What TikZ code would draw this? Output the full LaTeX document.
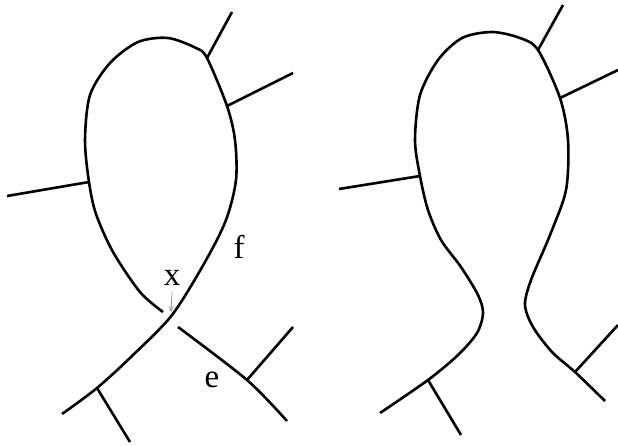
\documentclass[tikz,border=0pt]{standalone}
\usepackage{fontspec}
\setmainfont{Liberation Serif}
\usetikzlibrary{arrows.meta}
\begin{document}
\begin{tikzpicture}[x=1pt, y=-1pt, every node/.style={font=\fontsize{33}{36}\selectfont, inner sep=0pt}]
\tikzstyle{strand}=[line width=2.6pt, line join=round]
\tikzstyle{leg}=[line width=2.6pt]
\tikzstyle{pointer}=[draw=gray, line width=0.6pt, -{Straight Barb[length=5pt,width=4pt]}]
\useasboundingbox (0,0) rectangle (618,445);
% left: twisted loop
\coordinate (lt1) at (207,58);
\coordinate (lt2) at (227,106);
\coordinate (ll) at (89,182);
\coordinate (lb) at (97,388);
\coordinate (le) at (247,380);
\coordinate (xtip) at (171,312);
\draw[strand] plot[smooth] coordinates {(163,312) (140,292) (113,252) (96,214) (ll) (85,140)
  (90,95) (110,63) (138,42) (168,38) (196,48) (lt1) (lt2) (235,140) (236,180) (226,220)
  (205,262) (172,315) (133,355) (lb) (62,414)};
\draw[strand] plot[smooth] coordinates {(178,327) (le) (287,421)};
\draw[leg] (lt1) -- (232,12);
\draw[leg] (lt2) -- (293,73);
\draw[leg] (ll) -- (7,196);
\draw[leg] (lb) -- (130,442);
\draw[leg] (le) -- (293,327);
\node (x) at (172,278) {x};
\node (f) at (239,247) {f};
\node (e) at (212,380) {e};
\draw[pointer] (x.south) ++(0,6) -- (xtip);
% right: loop cut open
\coordinate (rt1) at (538,50);
\coordinate (rt2) at (560,98);
\coordinate (rl) at (420,176);
\coordinate (rb) at (428,380);
\coordinate (re) at (575,372);
\draw[strand] plot[smooth] coordinates {(380,413) (rb) (458,355) (477,333) (483,313) (478,295)
  (461,267) (441,240) (428,210) (rl) (415,140) (420,95) (438,60) (462,38) (492,32) (520,38) (rt1)
  (rt2) (568,140) (566,190) (550,235) (531,280) (525,305) (533,327) (552,352) (re) (605,401)};
\draw[leg] (rt1) -- (563,5);
\draw[leg] (rt2) -- (618,70);
\draw[leg] (rl) -- (339,189);
\draw[leg] (rb) -- (461,435);
\draw[leg] (re) -- (618,325);
\end{tikzpicture}
\end{document}
